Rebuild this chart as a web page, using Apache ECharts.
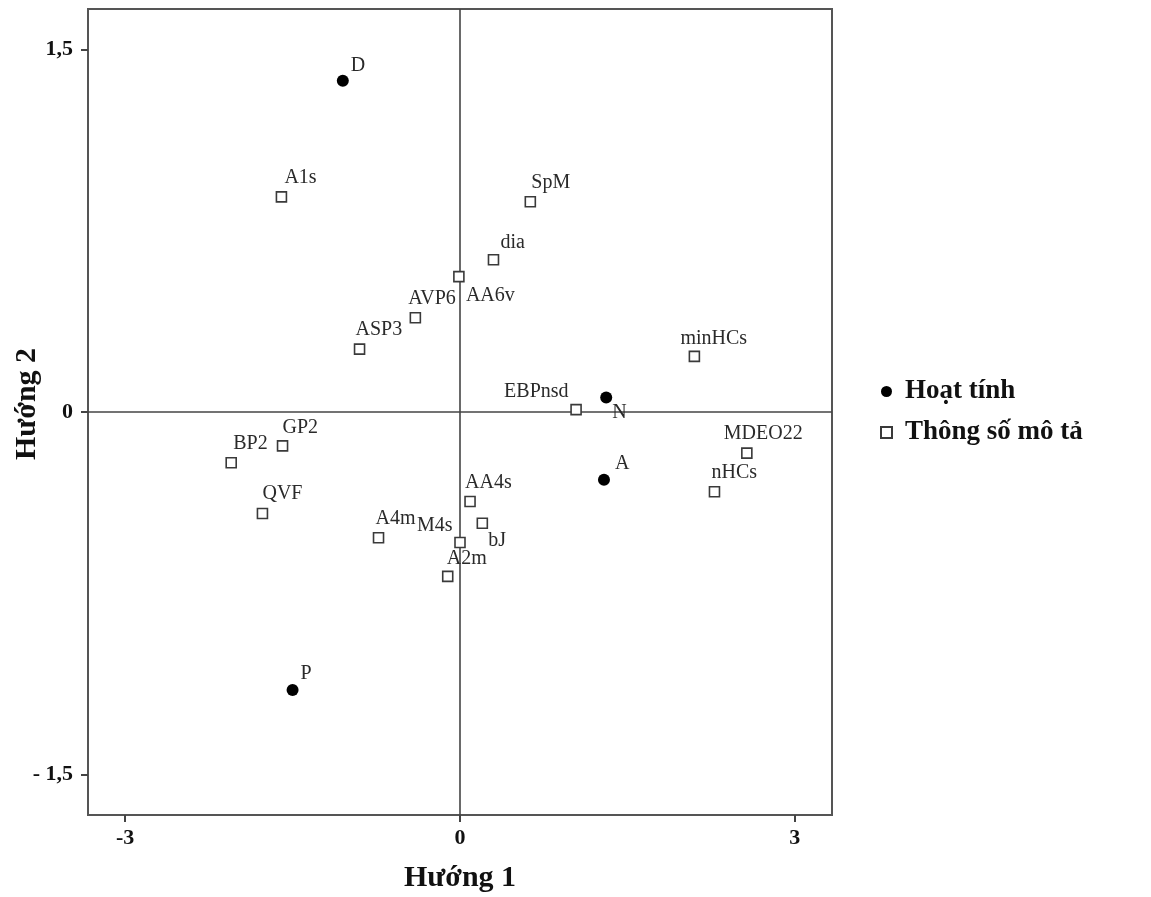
<!DOCTYPE html>
<html>
<head>
<meta charset="utf-8">
<script src="https://cdn.jsdelivr.net/npm/echarts@6/dist/echarts.min.js"></script>
<style>
  html, body { margin: 0; padding: 0; background: #fff; }
  #chart { width: 1151px; height: 897px; }
</style>
</head>
<body>
<div id="chart"></div>
<script>
// Activity points (Hoạt tính)
const activityNames = ['D', 'N', 'A', 'P'];
const activityX = [-1.05, 1.31, 1.29, -1.50];
const activityY = [1.37, 0.06, -0.28, -1.15];

// Descriptor points (Thông số mô tả)
const descNames = ['A1s', 'SpM', 'dia', 'AA6v', 'AVP6', 'ASP3', 'minHCs', 'EBPnsd', 'MDEO22',
                   'nHCs', 'GP2', 'BP2', 'QVF', 'AA4s', 'A4m', 'bJ', 'M4s', 'A2m'];
const descX = [-1.60, 0.63, 0.30, -0.01, -0.40, -0.90, 2.10, 1.04, 2.57,
               2.28, -1.59, -2.05, -1.77, 0.09, -0.73, 0.20, 0.00, -0.11];
const descY = [0.89, 0.87, 0.63, 0.56, 0.39, 0.26, 0.23, 0.01, -0.17,
               -0.33, -0.14, -0.21, -0.42, -0.37, -0.52, -0.46, -0.54, -0.68];

// Axis tick values and their printed labels
const xTicks = [-3, 0, 3];
const xTickLabels = ['-3', '0', '3'];
const yTicks = [-1.5, 0, 1.5];
const yTickLabels = ['- 1,5', '0', '1,5'];

const seriesNames = ['Hoạt tính', 'Thông số mô tả'];
const xTitle = 'Hướng 1';
const yTitle = 'Hướng 2';

// Label offsets (px, left edge / vertical middle relative to the marker)
const labelOffset = {
  D: [8, -15], N: [6, 15], A: [11, -16], P: [8, -16],
  A1s: [3, -19], SpM: [1, -19], dia: [7, -17], AA6v: [7, 19], AVP6: [-7, -19],
  ASP3: [-4, -19], minHCs: [-14, -18], EBPnsd: [-72, -18], MDEO22: [-23, -19],
  nHCs: [-3, -19], GP2: [0, -18], BP2: [2, -19], QVF: [0, -20], AA4s: [-5, -19],
  A4m: [-3, -19], bJ: [6, 18], M4s: [-43, -17], A2m: [-1, -18]
};

const serif = '"Liberation Serif", "Times New Roman", serif';

function buildPoints(names, xs, ys) {
  return names.map((n, i) => ({
    name: n,
    value: [xs[i], ys[i]],
    label: { offset: labelOffset[n] || [6, -16] }
  }));
}

const pointLabel = {
  show: true,
  position: 'inside',
  align: 'left',
  verticalAlign: 'middle',
  formatter: p => p.name,
  fontFamily: serif,
  fontSize: 20,
  color: '#2a2a2a'
};

const chart = echarts.init(document.getElementById('chart'), null, { renderer: 'canvas' });

chart.setOption({
  animation: false,
  backgroundColor: '#fff',
  grid: {
    left: 88, right: 319, top: 9, bottom: 82,
    containLabel: false, outerBoundsMode: 'none',
    show: true, borderColor: '#555', borderWidth: 2, backgroundColor: 'transparent'
  },
  legend: {
    orient: 'vertical',
    left: 875, top: 373,
    itemWidth: 11, itemHeight: 11, itemGap: 14,
    data: [
      { name: seriesNames[0], icon: 'circle' },
      { name: seriesNames[1], icon: 'rect' }
    ],
    textStyle: { fontFamily: serif, fontWeight: 'bold', fontSize: 27, color: '#111',
                 padding: [0, 0, 0, 8] }
  },
  xAxis: {
    type: 'value',
    min: -3.333, max: 3.333,
    name: xTitle, nameLocation: 'middle', nameGap: 48, nameMoveOverlap: false,
    nameTextStyle: { fontFamily: serif, fontWeight: 'bold', fontSize: 30, color: '#111' },
    axisLine: { show: false, onZero: false },
    splitLine: { show: false },
    axisTick: { show: true, inside: false, length: 7, customValues: xTicks,
                lineStyle: { color: '#444', width: 2 } },
    axisLabel: {
      customValues: xTicks, margin: 12,
      formatter: v => xTickLabels[xTicks.indexOf(Math.round(v * 1000) / 1000)],
      fontFamily: serif, fontWeight: 'bold', fontSize: 22, color: '#111'
    }
  },
  yAxis: {
    type: 'value',
    min: -1.667, max: 1.667,
    name: yTitle, nameLocation: 'middle', nameGap: 46, nameRotate: 90, nameMoveOverlap: false,
    nameTextStyle: { fontFamily: serif, fontWeight: 'bold', fontSize: 30, color: '#111',
                     padding: [0, 0, 0, 16] },
    axisLine: { show: false, onZero: false },
    splitLine: { show: false },
    axisTick: { show: true, inside: false, length: 7, customValues: yTicks,
                lineStyle: { color: '#444', width: 2 } },
    axisLabel: {
      customValues: yTicks, margin: 15,
      formatter: v => yTickLabels[yTicks.indexOf(Math.round(v * 1000) / 1000)],
      fontFamily: serif, fontWeight: 'bold', fontSize: 22, color: '#111'
    }
  },
  series: [
    {
      name: seriesNames[1],
      type: 'scatter',
      symbol: 'rect',
      symbolSize: 10,
      itemStyle: { color: '#fff', borderColor: '#3a3a3a', borderWidth: 1.6, opacity: 1 },
      label: pointLabel,
      data: buildPoints(descNames, descX, descY),
      markLine: {
        silent: true,
        symbol: 'none',
        label: { show: false },
        lineStyle: { color: '#444', width: 1.6, type: 'solid' },
        data: [{ xAxis: 0 }, { yAxis: 0 }],
        z: 1
      },
      z: 3
    },
    {
      name: seriesNames[0],
      type: 'scatter',
      symbol: 'circle',
      symbolSize: 12,
      itemStyle: { color: '#000', opacity: 1 },
      label: pointLabel,
      data: buildPoints(activityNames, activityX, activityY),
      z: 4
    }
  ]
});
</script>
</body>
</html>
